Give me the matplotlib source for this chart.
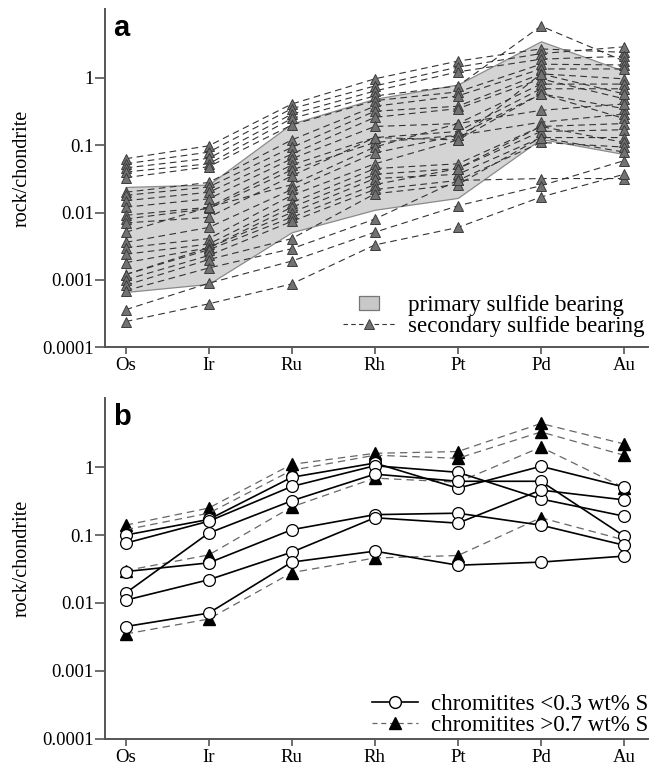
import matplotlib
matplotlib.use("Agg")
import matplotlib.pyplot as plt
from matplotlib.lines import Line2D
from matplotlib.path import Path
import numpy as np

elements = ["Os", "Ir", "Ru", "Rh", "Pt", "Pd", "Au"]
ytick_vals = [0.0001, 0.001, 0.01, 0.1, 1]
ytick_labels = ["0.0001", "0.001", "0.01", "0.1", "1"]

# panel a: primary sulfide bearing envelope (min / max)
prim_upper = [0.024, 0.026, 0.21, 0.49, 0.80, 3.5, 1.27]
prim_lower = [0.00066, 0.00087, 0.0051, 0.011, 0.0165, 0.124, 0.074]

# panel a: secondary sulfide bearing samples, one array per element
os_a = [.063, .053, .046, .040, .033, .020, .018, .015, .012, .0091, .0080, .0070,
        .0051, .0036, .0030, .0024, .0018, .0012, .0012, .0010, .00083, .00069, .00036, .00024]
ir_a = [.098, .079, .064, .053, .048, .028, .024, .020, .016, .012, .0115, .0085,
        .012, .0060, .0041, .0034, .0030, .0030, .0028, .0023, .0020, .0015, .00089, .00044]
ru_a = [.41, .35, .29, .25, .20, .12, .093, .074, .063, .051, .043, .035,
        .026, .022, .018, .014, .012, .010, .0085, .0074, .0041, .0029, .0019, .00087]
rh_a = [.97, .76, .64, .54, .46, .38, .32, .26, .19, .13, .11, .13,
        .094, .077, .053, .045, .037, .032, .026, .022, .019, .0080, .0051, .0033]
pt_a = [1.78, 1.45, 1.23, .76, .62, .54, .38, .35, .21, .16, .14, .12,
        .21, .14, .12, .053, .045, .037, .045, .030, .026, .030, .0126, .0060]
pd_a = [2.7, 2.3, 1.9, 5.9, 1.6, 1.36, 1.15, .97, .81, .69, .58, 1.15,
        .33, .22, .58, .19, .16, .13, .19, .11, .13, .032, .025, .017]
au_a = [2.4, 2.9, 2.1, 1.78, 1.56, 1.36, .97, .49, .81, .69, .35, .58,
        .41, .29, .25, .21, .17, .13, .11, .094, .079, .032, .059, .037]

# panel b: chromitites <0.3 wt% S
os_lo = [0.10, 0.076, 0.014, 0.029, 0.011, 0.0045]
ir_lo = [0.17, 0.16, 0.107, 0.039, 0.022, 0.0071]
ru_lo = [0.71, 0.52, 0.32, 0.12, 0.056, 0.040]
rh_lo = [1.15, 1.05, 0.79, 0.20, 0.18, 0.058]
pt_lo = [0.49, 0.84, 0.62, 0.21, 0.15, 0.036]
pd_lo = [1.03, 0.34, 0.62, 0.14, 0.46, 0.040]
au_lo = [0.51, 0.19, 0.097, 0.071, 0.33, 0.049]

# panel b: chromitites >0.7 wt% S
os_hi = [0.14, 0.12, 0.030, 0.0035]
ir_hi = [0.25, 0.21, 0.051, 0.0058]
ru_hi = [1.1, 0.9, 0.26, 0.028]
rh_hi = [1.6, 1.5, 0.69, 0.046]
pt_hi = [1.7, 1.35, 0.60, 0.050]
pd_hi = [4.4, 3.3, 1.97, 0.18]
au_hi = [2.2, 1.5, 0.50, 0.085]

plt.rcParams["font.family"] = ["Liberation Serif", "DejaVu Serif"]
axis_col = "#555555"
x = np.arange(len(elements))

fig = plt.figure(figsize=(6.64, 7.68), dpi=100)
ax_a = fig.add_axes([0.158, 0.548, 0.818, 0.44])
ax_b = fig.add_axes([0.158, 0.038, 0.818, 0.444])


def style_axis(ax, letter):
    ax.set_yscale("log")
    ax.set_ylim(0.0001, 10.5)
    ax.set_xlim(-0.25, 6.29)
    ax.set_xticks(x)
    ax.set_xticklabels(elements, fontsize=13.5)
    ax.set_yticks(ytick_vals)
    ax.set_yticklabels(ytick_labels, fontsize=13.5)
    ax.yaxis.set_minor_locator(matplotlib.ticker.NullLocator())
    for s in ["top", "right"]:
        ax.spines[s].set_visible(False)
    for s in ["left", "bottom"]:
        ax.spines[s].set_color(axis_col)
        ax.spines[s].set_linewidth(1.4)
    ax.tick_params(axis="y", direction="out", length=7, width=1.2, color=axis_col, pad=1)
    ax.tick_params(axis="x", direction="out", length=5, width=1.2, color=axis_col, pad=2)
    ax.set_ylabel("rock/chondrite", fontsize=14.5)
    ax.yaxis.set_label_coords(-0.135, 0.53)
    ax.text(0.015, 0.985, letter, transform=ax.transAxes, fontsize=21, fontweight="bold",
            family="Liberation Sans", va="top", ha="left")


# ---- panel a
style_axis(ax_a, "a")
ax_a.fill_between(x, prim_lower, prim_upper, facecolor="#d4d4d4", edgecolor="#8a8a8a",
                  linewidth=0.9, zorder=1)
sec = np.column_stack([os_a, ir_a, ru_a, rh_a, pt_a, pd_a, au_a])
for row in sec:
    ax_a.plot(x, row, color="#333333", lw=0.8, ls=(0, (6, 4)), zorder=2)
for row in sec:
    ax_a.plot(x, row, ls="none", marker="^", ms=7.5, mfc="#727272", mec="#3c3c3c",
              mew=0.7, zorder=3)

# flat rectangle for the legend box
rect = Path([(-1, -0.72), (1, -0.72), (1, 0.72), (-1, 0.72), (-1, -0.72)], closed=True)
h_prim = Line2D([], [], ls="none", marker=rect, ms=15, mfc="#c8c8c8", mec="#777777", mew=0.9)
h_sec = Line2D([], [], color="#333333", lw=0.8, ls=(0, (4, 3)), marker="^", ms=7.5,
               mfc="#727272", mec="#3c3c3c", mew=0.7)
ax_a.legend([h_prim, h_sec], ["primary sulfide bearing", "secondary sulfide bearing"],
            loc="lower right", bbox_to_anchor=(1.027, -0.025), frameon=False, fontsize=16.6,
            handlelength=2.3, handletextpad=0.52, labelspacing=0.0, borderpad=0.3)

# ---- panel b
style_axis(ax_b, "b")
hi = np.column_stack([os_hi, ir_hi, ru_hi, rh_hi, pt_hi, pd_hi, au_hi])
lo = np.column_stack([os_lo, ir_lo, ru_lo, rh_lo, pt_lo, pd_lo, au_lo])
for row in hi:
    ax_b.plot(x, row, color="#666666", lw=0.9, ls=(0, (6, 4)), marker="^", ms=9,
              mfc="black", mec="black", zorder=2)
for row in lo:
    ax_b.plot(x, row, color="black", lw=1.2, ls="-", marker="o", ms=8.5,
              mfc="white", mec="black", mew=0.9, zorder=3)

h_lo = Line2D([], [], color="black", lw=1.2, marker="o", ms=8.5, mfc="white", mec="black")
h_hi = Line2D([], [], color="#666666", lw=0.9, ls=(0, (4, 3)), marker="^", ms=9,
              mfc="black", mec="black")
ax_b.legend([h_lo, h_hi], ["chromitites <0.3 wt% S", "chromitites >0.7 wt% S"],
            loc="lower right", bbox_to_anchor=(1.034, -0.045), frameon=False, fontsize=16.6,
            handlelength=2.0, handletextpad=0.55, labelspacing=0.0, borderpad=0.3)

fig.savefig("out.png", dpi=100)
